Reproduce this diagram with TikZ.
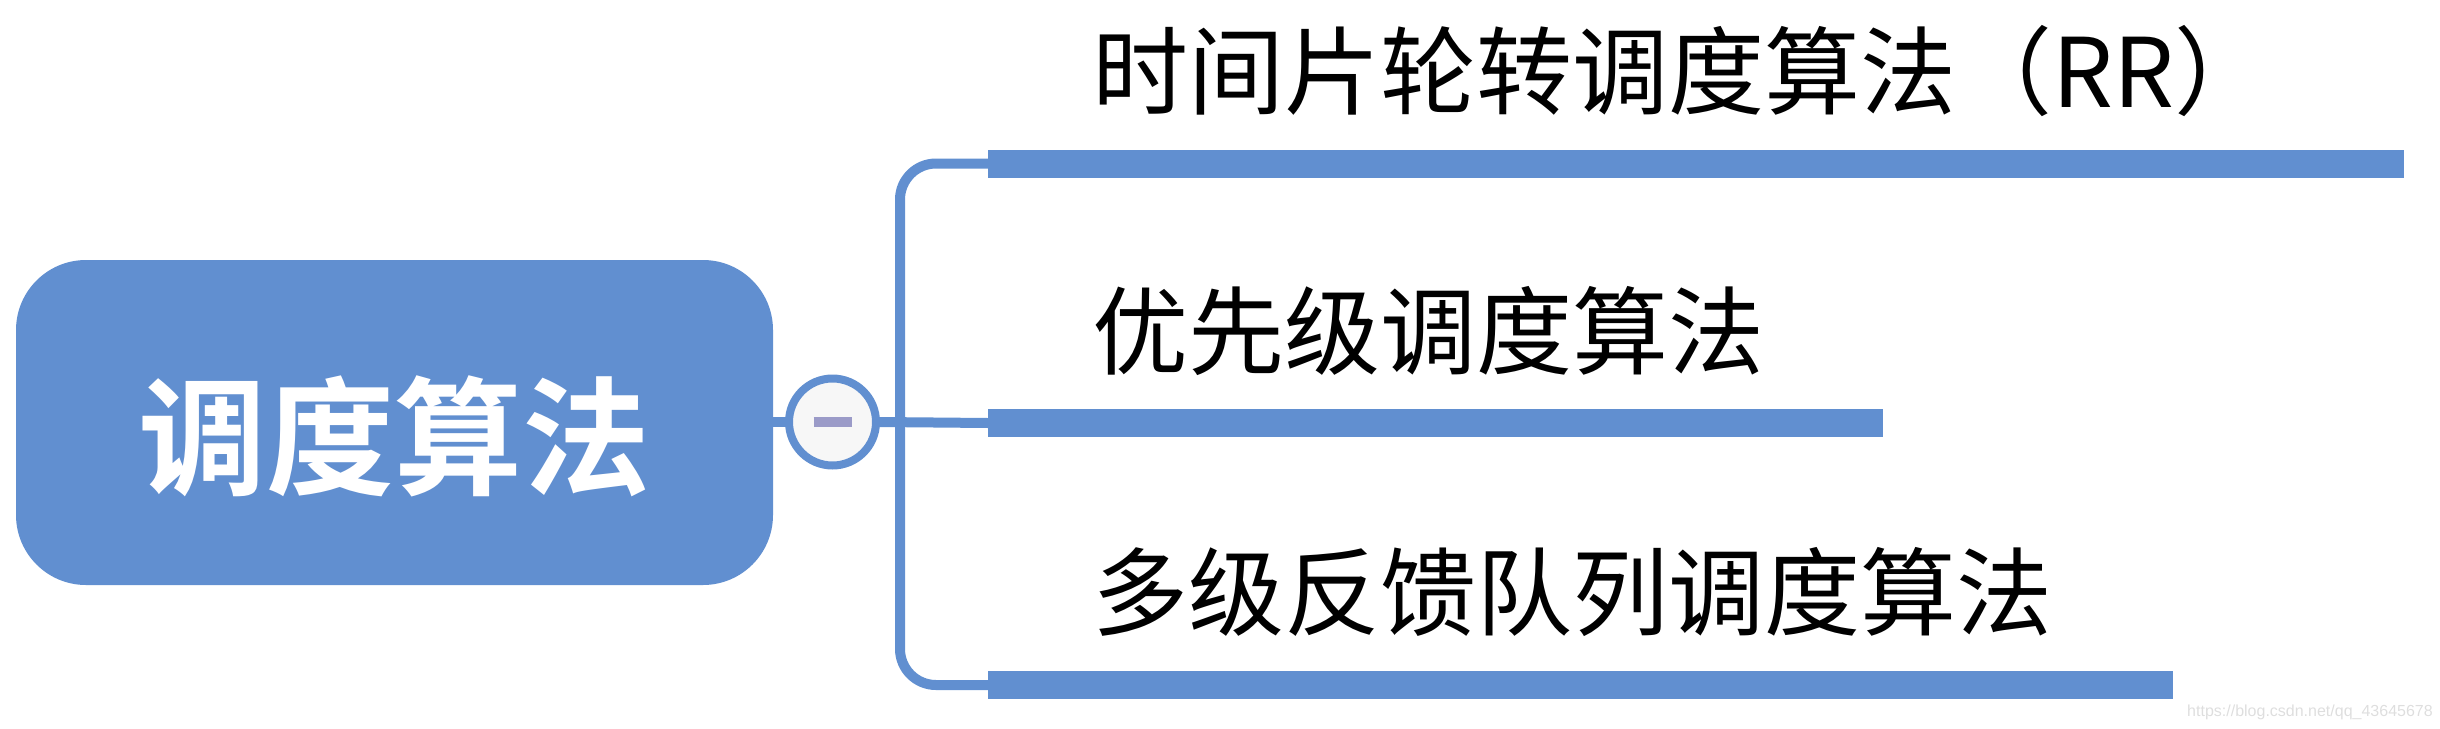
\documentclass[tikz,border=0pt]{standalone}
\usepackage{fontspec}
\newfontfamily\cjk{Noto Sans CJK SC}
\newfontfamily\cjkbold{Noto Sans CJK SC}[BoldFont={Noto Sans CJK SC Bold}]
\newfontfamily\wmfont{Liberation Sans}
\definecolor{mapblue}{RGB}{97,143,208}
\definecolor{minuscol}{RGB}{155,155,200}
\definecolor{circfill}{RGB}{247,247,247}
\tikzset{
  rootbox/.style={fill=mapblue, rounded corners=70pt, inner sep=0pt, minimum width=757pt, minimum height=325pt},
  rootlabel/.style={text=white, inner sep=0pt, anchor=base, font=\cjkbold\bfseries\fontsize{128pt}{140pt}\selectfont},
  branchbar/.style={fill=mapblue, inner sep=0pt, minimum height=28pt, anchor=west},
  conn/.style={draw=mapblue, line width=10pt},
  togglec/.style={circle, draw=mapblue, fill=circfill, line width=8pt, minimum size=87pt, inner sep=0pt},
  leaflabel/.style={anchor=base west, inner sep=0pt, text=black, font=\cjk\fontsize{96pt}{110pt}\selectfont},
  wmark/.style={anchor=base west, inner sep=0pt, text=black!13, font=\wmfont\fontsize{16pt}{18pt}\selectfont}
}
\begin{document}
\begin{tikzpicture}[x=1pt,y=-1pt]
\useasboundingbox (0,0) rectangle (2440,728);
% root
\node[rootbox] (root) at (394.5,422.5) {};
\node[rootlabel] (roottext) at (394.5,485) {调度算法};
% toggle circle
\node[togglec] (circ) at (832.5,422) {};
\draw[draw=minuscol, line width=10pt] ([xshift=-19pt]circ.center) -- ([xshift=19pt]circ.center);
% trunk
\coordinate (trunk) at (900,422);
% bars
\node[branchbar, minimum width=1416pt] (bar1) at (988,163.5) {};
\node[branchbar, minimum width=895pt] (bar2) at (988,423) {};
\node[branchbar, minimum width=1185pt] (bar3) at (988,685) {};
% connectors
\draw[conn] (root.east |- circ.west) -- (circ.west);
\draw[conn] (circ.east) -- (bar2.west);
\draw[conn, rounded corners=36pt] (bar1.west) -- (trunk |- bar1.west) -- (trunk |- bar3.west) -- (bar3.west);
% labels
\node[leaflabel] (l1) at (1092,107) {时间片轮转调度算法（RR）};
\node[leaflabel] (l2) at (1092,367) {优先级调度算法};
\node[leaflabel] (l3) at (1092,628) {多级反馈队列调度算法};
% watermark
\node[wmark] (wm) at (2187,716) {https://blog.csdn.net/qq\_43645678};
\end{tikzpicture}
\end{document}
